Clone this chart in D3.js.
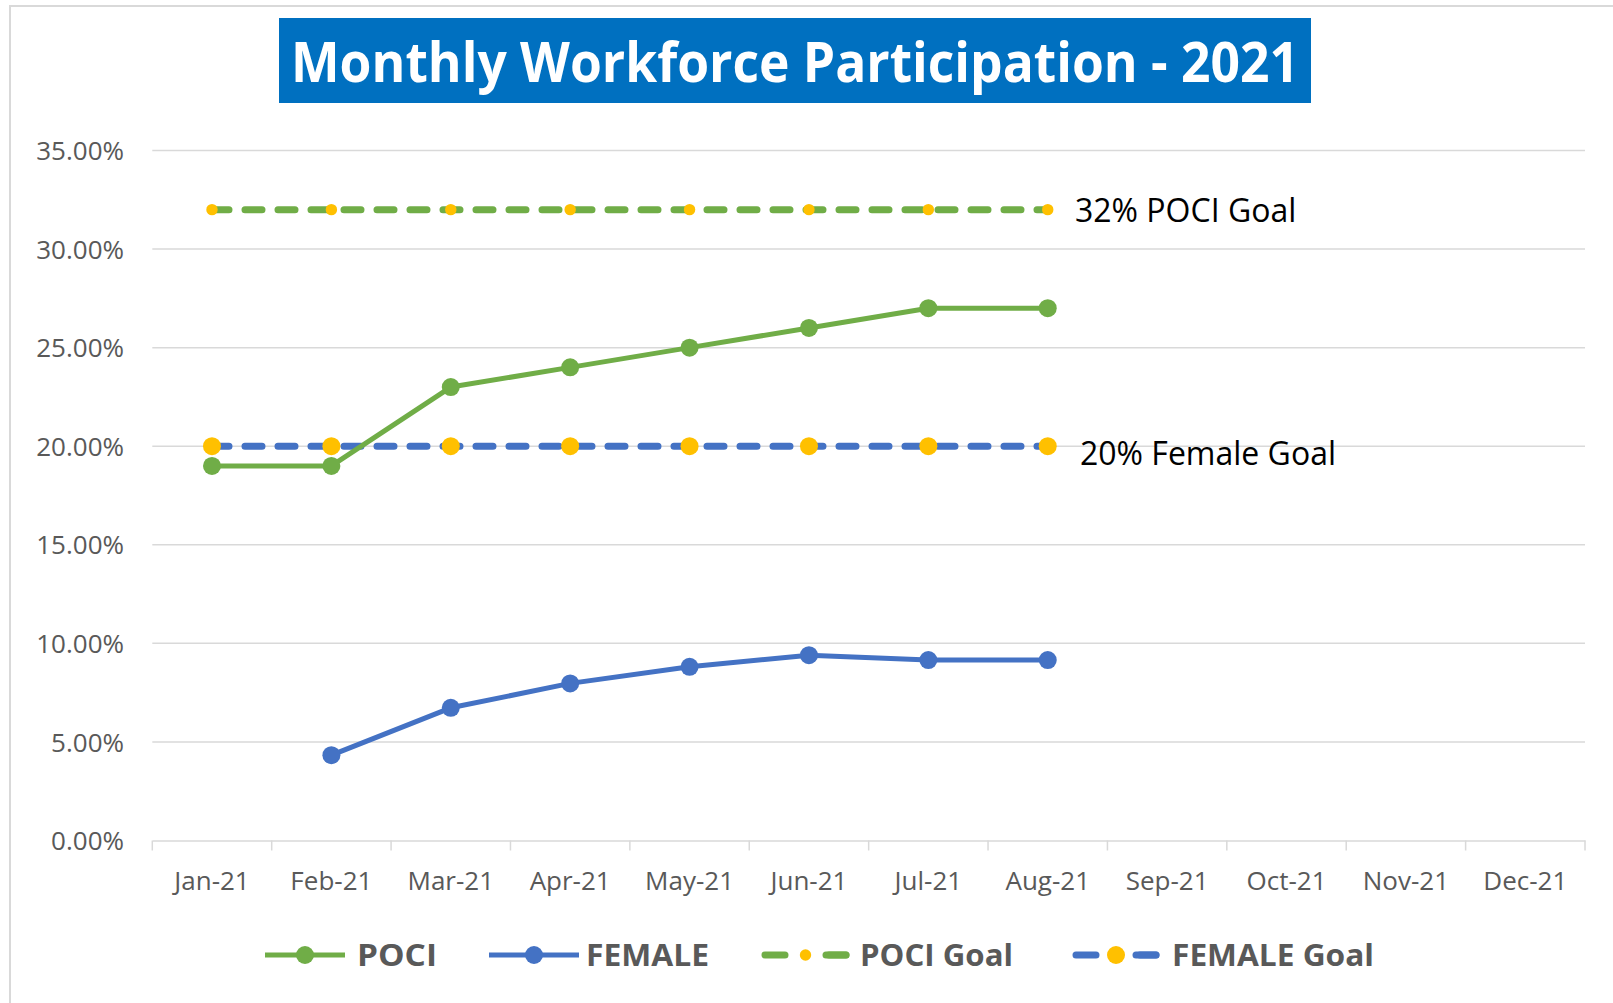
<!DOCTYPE html>
<html>
<head>
<meta charset="utf-8">
<script src="https://cdn.jsdelivr.net/npm/d3@7"></script>
<style>
  html, body { margin: 0; padding: 0; background: #fff; }
  svg { display: block; }
</style>
</head>
<body>
<svg id="chart" width="1613" height="1003"></svg>
<script>
const months = ["Jan-21","Feb-21","Mar-21","Apr-21","May-21","Jun-21","Jul-21","Aug-21","Sep-21","Oct-21","Nov-21","Dec-21"];
const poci = [0.19, 0.19, 0.23, 0.24, 0.25, 0.26, 0.27, 0.27];
const female = [null, 0.0433, 0.0673, 0.0797, 0.0881, 0.0940, 0.0915, 0.0915];
const pociGoal = [0.32, 0.32, 0.32, 0.32, 0.32, 0.32, 0.32, 0.32];
const femaleGoal = [0.20, 0.20, 0.20, 0.20, 0.20, 0.20, 0.20, 0.20];
const yTicks = [0, 0.05, 0.10, 0.15, 0.20, 0.25, 0.30, 0.35];
const titleText = "Monthly Workforce Participation - 2021";
const legendItems = ["POCI", "FEMALE", "POCI Goal", "FEMALE Goal"];
const annotations = [{text: "32% POCI Goal", value: 0.32}, {text: "20% Female Goal", value: 0.20}];

const GREEN = "#70AD47", BLUE = "#4472C4", YELLOW = "#FFC000", GRID = "#D9D9D9", TXT = "#595959";
const FONT = "'Open Sans', sans-serif";

const svg = d3.select("#chart");

// outer frame
svg.append("rect").attr("x", 10).attr("y", 6).attr("width", 1640).attr("height", 1040)
  .attr("fill", "#fff").attr("stroke", GRID).attr("stroke-width", 2);

const x = d3.scaleBand().domain(months).range([152.3, 1585]).padding(0);
const y = d3.scaleLinear().domain([0, 0.35]).range([840.5, 150.5]);
const cx = m => x(m) + x.bandwidth() / 2;

// title
svg.append("rect").attr("x", 279).attr("y", 18).attr("width", 1032).attr("height", 85).attr("fill", "#0070C0");
svg.append("text").attr("x", 291).attr("y", 82).text(titleText)
  .attr("font-family", FONT).attr("font-weight", 700).attr("font-size", 55).attr("fill", "#fff")
  .attr("textLength", 1008).attr("lengthAdjust", "spacingAndGlyphs");

// gridlines
svg.append("g").selectAll("line").data(yTicks.slice(1)).join("line")
  .attr("x1", 152.3).attr("x2", 1585).attr("y1", d => y(d)).attr("y2", d => y(d))
  .attr("stroke", GRID).attr("stroke-width", 1.5);

// y axis labels
const yAxis = d3.axisLeft(y).tickValues(yTicks).tickFormat(d3.format(".2%")).tickSize(0).tickPadding(0);
const gy = svg.append("g").attr("transform", "translate(124,0)").call(yAxis);
gy.select(".domain").remove();
gy.selectAll("text").attr("font-family", FONT).attr("font-size", 26).attr("fill", TXT).attr("dy", "0.35em");

// x axis
const xAxis = d3.axisBottom(x).tickSize(0).tickPadding(0);
const gx = svg.append("g").attr("transform", `translate(0,${y(0)})`).call(xAxis);
gx.select(".domain").attr("stroke", GRID).attr("stroke-width", 1.5);
gx.selectAll("text").attr("font-family", FONT).attr("font-size", 26).attr("fill", TXT).attr("dy", 0).attr("y", 49);
// ticks at category boundaries
const bounds = months.map(m => x(m)).concat([x.range()[1]]);
svg.append("g").selectAll("line").data(bounds).join("line")
  .attr("x1", d => d).attr("x2", d => d).attr("y1", y(0)).attr("y2", y(0) + 10)
  .attr("stroke", GRID).attr("stroke-width", 1.5);

function series(values, color, opts) {
  const pts = values.map((v, i) => ({m: months[i], v})).filter(d => d.v != null);
  const line = d3.line().x(d => cx(d.m)).y(d => y(d.v));
  const g = svg.append("g");
  g.append("path").datum(pts).attr("d", line).attr("fill", "none")
    .attr("stroke", color).attr("stroke-width", opts.width)
    .attr("stroke-dasharray", opts.dash || null).attr("stroke-linecap", opts.dash ? "round" : "butt")
    .attr("stroke-linejoin", "round");
  g.selectAll("circle").data(pts).join("circle")
    .attr("cx", d => cx(d.m)).attr("cy", d => y(d.v)).attr("r", opts.r).attr("fill", opts.marker);
}

series(pociGoal, GREEN, {width: 7, dash: "17,16", r: 5.7, marker: YELLOW});
series(femaleGoal, BLUE, {width: 7, dash: "17,16", r: 9, marker: YELLOW});
series(poci, GREEN, {width: 5, r: 9, marker: GREEN});
series(female, BLUE, {width: 5, r: 9, marker: BLUE});

// annotations
svg.append("text").attr("x", 1075).attr("y", 222).text(annotations[0].text)
  .attr("font-family", FONT).attr("font-size", 32).attr("fill", "#000");
svg.append("text").attr("x", 1080).attr("y", 465).text(annotations[1].text)
  .attr("font-family", FONT).attr("font-size", 32).attr("fill", "#000");

// legend
const legendY = 955;
const legendSpec = [
  {x1: 265, x2: 345, tx: 357, tw: 80, color: GREEN, dash: null, r: 9, marker: GREEN, w: 5},
  {x1: 489, x2: 579, tx: 586, tw: 123, color: BLUE, dash: null, r: 9, marker: BLUE, w: 5},
  {x1: 761, x2: 850, tx: 860, tw: 153, color: GREEN, dash: "17,16", r: 5.7, marker: YELLOW, w: 7},
  {x1: 1072, x2: 1160, tx: 1172, tw: 202, color: BLUE, dash: "17,16", r: 9, marker: YELLOW, w: 7}
];
const lg = svg.append("g");
legendSpec.forEach((s, i) => {
  lg.append("line").attr("x1", s.dash ? s.x1 + 4 : s.x1).attr("x2", s.dash ? s.x2 - 4 : s.x2)
    .attr("y1", legendY).attr("y2", legendY)
    .attr("stroke", s.color).attr("stroke-width", s.w)
    .attr("stroke-dasharray", s.dash ? "20,44" : null).attr("stroke-linecap", s.dash ? "round" : "butt");
  if (s.dash) {
    lg.append("line").attr("x1", s.x2 - 4).attr("x2", s.x2 - 24).attr("y1", legendY).attr("y2", legendY)
      .attr("stroke", s.color).attr("stroke-width", s.w).attr("stroke-linecap", "round");
  }
  lg.append("circle").attr("cx", (s.x1 + s.x2) / 2).attr("cy", legendY).attr("r", s.r).attr("fill", s.marker);
  lg.append("text").attr("x", s.tx).attr("y", legendY + 11).text(legendItems[i])
    .attr("font-family", FONT).attr("font-weight", 700).attr("font-size", 30).attr("fill", TXT)
    .attr("textLength", s.tw).attr("lengthAdjust", "spacingAndGlyphs");
});
</script>
</body>
</html>
